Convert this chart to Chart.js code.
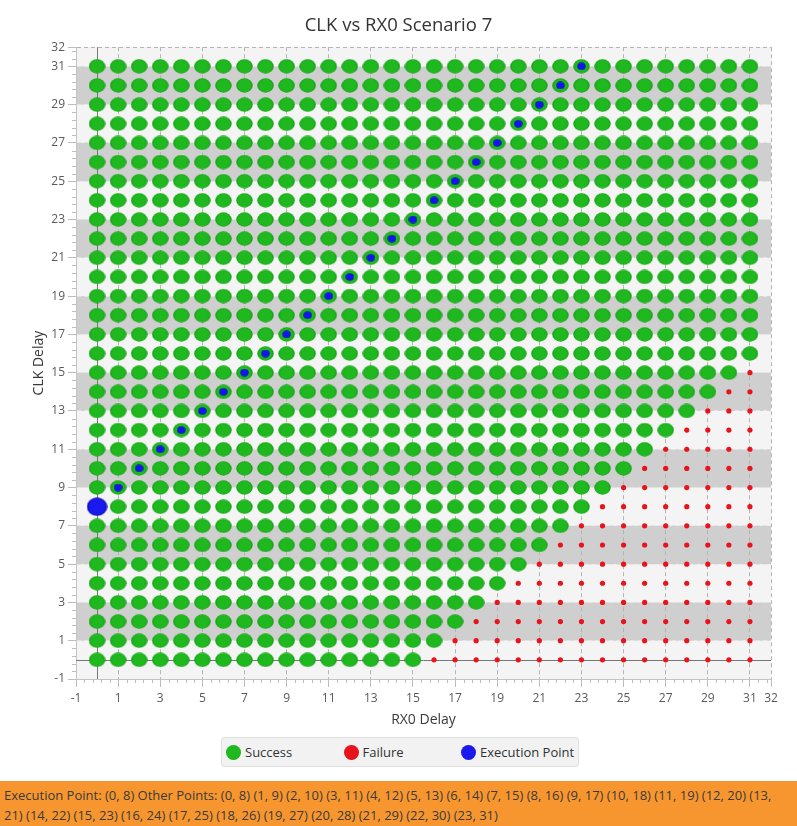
<!DOCTYPE html>
<html>
<head>
<meta charset="utf-8">
<title>CLK vs RX0 Scenario 7</title>
<script src="https://cdn.jsdelivr.net/npm/chart.js@4.4.1/dist/chart.umd.min.js"></script>
<style>
  body { margin: 0; background: #fff; font-family: "Open Sans", sans-serif; }
  #wrap { position: relative; width: 797px; height: 826px; overflow: hidden; }
  #chartBox { position: absolute; left: 0; top: 0; width: 797px; height: 732px; }
  #legend {
    position: absolute; left: 221px; top: 737px; width: 358px; height: 30px;
    box-sizing: border-box; background: #f2f2f2; border: 1px solid #e0e0e0; border-radius: 3px;
    display: flex; align-items: center; padding-left: 4px;
  }
  .item { display: flex; align-items: center; width: 117.5px; font-size: 13px; color: #333; white-space: nowrap; }
  .item:last-child { width: auto; }
  .dot { width: 15px; height: 15px; border-radius: 50%; margin-right: 4px; }
  #info {
    position: absolute; left: 0; top: 781px; width: 797px; height: 45px; box-sizing: border-box;
    background: #f7962f; color: #3a3a3a; font-size: 13px; line-height: 19.5px; padding: 5px 4px 0 4px;
  }
</style>
</head>
<body>
<div id="wrap">
  <div id="chartBox"><canvas id="grafico"></canvas></div>
  <div id="legend"></div>
  <div id="info"></div>
</div>
<script>
// ---- datos ----
const rx0Delays = [0, 1, 2, 3, 4, 5, 6, 7, 8, 9, 10, 11, 12, 13, 14, 15,
                   16, 17, 18, 19, 20, 21, 22, 23, 24, 25, 26, 27, 28, 29, 30, 31];
const clkDelays = [0, 1, 2, 3, 4, 5, 6, 7, 8, 9, 10, 11, 12, 13, 14, 15,
                   16, 17, 18, 19, 20, 21, 22, 23, 24, 25, 26, 27, 28, 29, 30, 31];
// ultimo RX0 con exito para cada fila de CLK (0..31)
const lastSuccessRx0 = [15, 16, 17, 18, 19, 20, 21, 22, 23, 24, 25, 26, 27, 28, 29, 30,
                        31, 31, 31, 31, 31, 31, 31, 31, 31, 31, 31, 31, 31, 31, 31, 31];
const executionPoint = [0, 8];
const otherPoints = [[0, 8], [1, 9], [2, 10], [3, 11], [4, 12], [5, 13], [6, 14], [7, 15],
                     [8, 16], [9, 17], [10, 18], [11, 19], [12, 20], [13, 21], [14, 22], [15, 23],
                     [16, 24], [17, 25], [18, 26], [19, 27], [20, 28], [21, 29], [22, 30], [23, 31]];
const axisTicks = [-1, 1, 3, 5, 7, 9, 11, 13, 15, 17, 19, 21, 23, 25, 27, 29, 31, 32];

// puntos de exito / fallo
const successData = [];
const failureData = [];
clkDelays.forEach((clk, i) => {
  rx0Delays.forEach(rx => {
    (rx <= lastSuccessRx0[i] ? successData : failureData).push({ x: rx, y: clk });
  });
});

// elipses con degradado (estilo de los puntos)
function elipse(w, h, centro, borde) {
  const cv = document.createElement('canvas');
  cv.width = w; cv.height = h;
  const g = cv.getContext('2d');
  const grad = g.createRadialGradient(w / 2, h / 2, 0, w / 2, h / 2, w / 2);
  grad.addColorStop(0, centro);
  grad.addColorStop(0.7, centro);
  grad.addColorStop(1, borde);
  g.fillStyle = grad;
  g.beginPath();
  g.ellipse(w / 2, h / 2, w / 2 - 0.3, h / 2 - 0.3, 0, 0, Math.PI * 2);
  g.fill();
  return cv;
}

const puntoVerde = elipse(17, 15, '#1fb91f', '#0d960d');
const puntoAzul = elipse(9, 8, '#1414ee', '#0a0a9a');
const puntoEjec = elipse(21, 19, '#1a1aee', '#0b0bb0');

// bandas grises + lineas de cero
const fondoPlugin = {
  id: 'fondo',
  beforeDraw(chart) {
    const { ctx, chartArea: a, scales: { y } } = chart;
    ctx.save();
    ctx.fillStyle = '#f4f4f4';
    ctx.fillRect(a.left, a.top, a.right - a.left, a.bottom - a.top);
    ctx.fillStyle = '#cfcfcf';
    for (let k = 1; k < axisTicks.length - 1; k += 2) {
      const y1 = y.getPixelForValue(axisTicks[k + 1]);
      const y2 = y.getPixelForValue(axisTicks[k]);
      ctx.fillRect(a.left, y1, a.right - a.left, y2 - y1);
    }
    ctx.restore();
  },
  beforeDatasetsDraw(chart) {
    const { ctx, chartArea: a, scales: { x, y } } = chart;
    ctx.save();
    ctx.strokeStyle = '#777';
    ctx.lineWidth = 1;
    const x0 = Math.round(x.getPixelForValue(0)) + 0.5;
    const y0 = Math.round(y.getPixelForValue(0)) + 0.5;
    ctx.beginPath();
    ctx.moveTo(x0, a.top); ctx.lineTo(x0, a.bottom);
    ctx.moveTo(a.left, y0); ctx.lineTo(a.right, y0);
    ctx.stroke();
    ctx.restore();
  },
  afterDraw(chart) {
    // marcas menores de los ejes
    const { ctx, chartArea: a, scales: { x, y } } = chart;
    ctx.save();
    ctx.strokeStyle = '#bdbdbd';
    ctx.lineWidth = 1;
    ctx.beginPath();
    for (let k = 0; k < axisTicks.length - 1; k++) {
      for (let v = axisTicks[k] + 0.4; v < axisTicks[k + 1] - 0.05; v += 0.4) {
        const px = Math.round(x.getPixelForValue(v)) + 0.5;
        ctx.moveTo(px, a.bottom); ctx.lineTo(px, a.bottom + 4);
        const py = Math.round(y.getPixelForValue(v)) + 0.5;
        ctx.moveTo(a.left, py); ctx.lineTo(a.left - 4, py);
      }
    }
    ctx.stroke();
    ctx.restore();
  }
};

const datasets = [
  { label: 'Execution Point', data: [{ x: executionPoint[0], y: executionPoint[1] }],
    pointStyle: puntoEjec, pointRadius: 10, order: 0, color: '#1a1aee' },
  { label: 'Other Points', data: otherPoints.map(p => ({ x: p[0], y: p[1] })),
    pointStyle: puntoAzul, pointRadius: 5, order: 1 },
  { label: 'Failure', data: failureData, pointStyle: 'circle', pointRadius: 2.6,
    backgroundColor: '#e8141c', borderWidth: 0, order: 2, color: '#e8141c' },
  { label: 'Success', data: successData, pointStyle: puntoVerde, pointRadius: 8,
    order: 3, color: '#1fb91f' }
];

new Chart(document.getElementById('grafico'), {
  type: 'scatter',
  data: { datasets: datasets },
  plugins: [fondoPlugin],
  options: {
    responsive: true,
    maintainAspectRatio: false,
    animation: false,
    events: [],
    layout: { padding: 0 },
    elements: { point: { hoverRadius: 0 } },
    plugins: {
      legend: { display: false },
      tooltip: { enabled: false },
      title: {
        display: true,
        text: 'CLK vs RX0 Scenario 7',
        color: '#333',
        font: { family: '"Open Sans", sans-serif', size: 18.5, weight: 'normal' },
        padding: { top: 15, bottom: 10 }
      }
    },
    scales: {
      x: {
        type: 'linear', min: -1, max: 32,
        afterBuildTicks: s => { s.ticks = axisTicks.map(v => ({ value: v })); },
        afterFit: s => { s.height = 53; },
        ticks: { color: '#5a5a5a', font: { family: '"Open Sans", sans-serif', size: 12 }, padding: 4,
                 autoSkip: false, maxRotation: 0 },
        grid: { color: '#b4b4b4', tickColor: '#bdbdbd', tickLength: 8 },
        border: { color: '#c4c4c4', dash: [4, 3] },
        title: { display: true, text: 'RX0 Delay', color: '#3a3a3a',
                 font: { family: '"Open Sans", sans-serif', size: 14 }, padding: { top: 0, bottom: 4 } }
      },
      y: {
        type: 'linear', min: -1, max: 32,
        afterBuildTicks: s => { s.ticks = axisTicks.map(v => ({ value: v })); },
        afterFit: s => { s.width = 76; },
        ticks: { color: '#5a5a5a', font: { family: '"Open Sans", sans-serif', size: 12 }, padding: 3,
                 autoSkip: false },
        grid: { color: c => (c.tick && c.tick.value === 32 ? '#b4b4b4' : '#e4e4e4'),
                tickColor: '#bdbdbd', tickLength: 8 },
        border: { color: '#c4c4c4', dash: [4, 3] },
        title: { display: true, text: 'CLK Delay', color: '#3a3a3a',
                 font: { family: '"Open Sans", sans-serif', size: 14 }, padding: { top: 31, bottom: 0 } }
      },
      // margen derecho vacio para que el titulo quede centrado en el lienzo
      margen: {
        type: 'linear', position: 'right', display: true,
        afterFit: s => { s.width = 26; },
        grid: { display: false }, ticks: { display: false }, border: { display: false }
      }
    }
  }
});

// leyenda
const leyenda = document.getElementById('legend');
['Success', 'Failure', 'Execution Point'].forEach(nombre => {
  const ds = datasets.find(d => d.label === nombre);
  const item = document.createElement('div');
  item.className = 'item';
  item.innerHTML = `<span class="dot" style="background: radial-gradient(circle, ${ds.color} 60%, rgba(0,0,0,0.25) 100%), ${ds.color}"></span>${nombre}`;
  leyenda.appendChild(item);
});

// barra inferior
document.getElementById('info').textContent =
  `Execution Point: (${executionPoint[0]}, ${executionPoint[1]}) Other Points: ` +
  otherPoints.map(p => `(${p[0]}, ${p[1]})`).join(' ');
</script>
</body>
</html>
